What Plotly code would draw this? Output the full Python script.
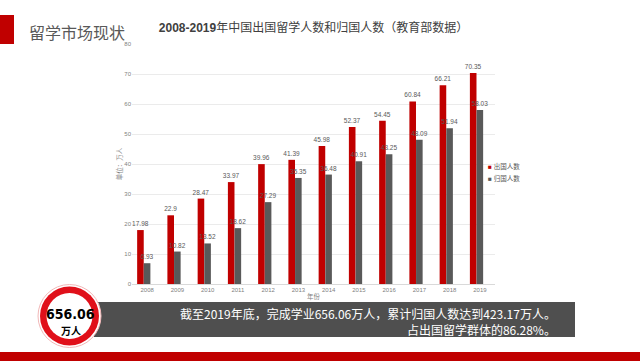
import plotly.graph_objects as go

# ---------------- data ----------------
years = ['2008', '2009', '2010', '2011', '2012', '2013',
         '2014', '2015', '2016', '2017', '2018', '2019']
outbound = [17.98, 22.9, 28.47, 33.97, 39.96, 41.39,
            45.98, 52.37, 54.45, 60.84, 66.21, 70.35]
returned = [6.93, 10.82, 13.52, 18.62, 27.29, 35.35,
            36.48, 40.91, 43.25, 48.09, 51.94, 58.03]
series_names = ['出国人数', '归国人数']
y_ticks = [0, 10, 20, 30, 40, 50, 60, 70, 80]
chart_title = '2008-2019年中国出国留学人数和归国人数（教育部数据）'
page_title = '留学市场现状'
y_title = '单位：万人'
x_title = '年份'
badge_value = '656.06'
badge_unit = '万人'
banner_lines = ['截至2019年底，完成学业656.06万人，累计归国人数达到423.17万人。',
                '占出国留学群体的86.28%。']

RED = '#c00000'
GRAY = '#595959'
TXT = '#595959'

# plot area in pixels (for placing decorations in paper coords)
L, R, T, B = 132, 495, 44, 284
W, H = 640, 361


def px(x):
    return (x - L) / (R - L)


def py(y):
    return (B - y) / (B - T)


fig = go.Figure()
fig.add_trace(go.Bar(
    x=years, y=outbound, name=series_names[0],
    marker=dict(color=RED, line=dict(width=0)),
    width=0.218, offset=-0.33,
    texttemplate='%{y}', textposition='outside', constraintext='none',
    textfont=dict(size=6.5, color=TXT), cliponaxis=False,
))
fig.add_trace(go.Bar(
    x=years, y=returned, name=series_names[1],
    marker=dict(color=GRAY, line=dict(width=0)),
    width=0.218, offset=-0.11,
    texttemplate='%{y}', textposition='outside', constraintext='none',
    textfont=dict(size=6.5, color=TXT), cliponaxis=False,
))

shapes = [
    # top-left red tab
    dict(type='rect', xref='paper', yref='paper', x0=px(0), x1=px(14),
         y0=py(44), y1=py(15), fillcolor=RED, line=dict(width=0), layer='above'),
    # dark banner
    dict(type='rect', xref='paper', yref='paper', x0=px(94), x1=px(575),
         y0=py(337), y1=py(302), fillcolor='#4f4f4f', line=dict(width=0), layer='above'),
    # bottom red band
    dict(type='rect', xref='paper', yref='paper', x0=px(0), x1=px(640),
         y0=py(361), y1=py(352), fillcolor=RED, line=dict(width=0), layer='above'),
]
cx, cy = px(69.5), py(316)
for r, fill, lc, lw in [(31.5, 'white', '#f2b8b8', 1), (29.5, '#e0101a', '#e0101a', 0),
                        (23, 'white', 'white', 0)]:
    shapes.append(dict(type='circle', xref='paper', yref='paper',
                       xsizemode='pixel', ysizemode='pixel', xanchor=cx, yanchor=cy,
                       x0=-r, x1=r, y0=-r, y1=r, fillcolor=fill,
                       line=dict(color=lc, width=lw), layer='above'))

annotations = [
    dict(text=page_title, xref='paper', yref='paper', x=px(27), y=py(32),
         xanchor='left', yanchor='middle', showarrow=False,
         font=dict(size=16, color='#595959', family='Noto Sans CJK SC')),
    dict(text=f"<span style='color:{RED}'>■</span> {series_names[0]}", xref='paper', yref='paper',
         x=px(486), y=py(166), xanchor='left', yanchor='middle', showarrow=False,
         font=dict(size=6.5, color=TXT)),
    dict(text=f"<span style='color:{GRAY}'>■</span> {series_names[1]}", xref='paper', yref='paper',
         x=px(486), y=py(178), xanchor='left', yanchor='middle', showarrow=False,
         font=dict(size=6.5, color=TXT)),
    dict(text='<br>'.join(banner_lines), xref='paper', yref='paper',
         x=px(558), y=py(321), xanchor='right', yanchor='middle', align='right',
         showarrow=False,
         font=dict(size=12, color='white', family='Noto Sans CJK SC')),
    dict(text=f'<b>{badge_value}</b>', xref='paper', yref='paper',
         x=px(70), y=py(314), xanchor='center', yanchor='middle', showarrow=False,
         font=dict(size=14, color='black',
                   family='DejaVu Sans Condensed, Liberation Sans Narrow, sans-serif')),
    dict(text=f'<b>{badge_unit}</b>', xref='paper', yref='paper',
         x=px(70.5), y=py(330), xanchor='center', yanchor='middle', showarrow=False,
         font=dict(size=10, color='black', family='Noto Sans CJK SC')),
]

fig.update_layout(
    width=W, height=H, autosize=False,
    margin=dict(l=L, r=W - R, t=T, b=H - B, pad=0),
    paper_bgcolor='white', plot_bgcolor='white',
    font=dict(family='Liberation Sans, Noto Sans CJK SC, sans-serif', color=TXT),
    title=dict(text=f'<b>2008-2019</b>{chart_title[9:]}', x=0.5, xref='paper',
               xanchor='center', y=1 - 28 / H, yref='container', yanchor='middle',
               font=dict(size=12, color='#404040',
                         family='Liberation Sans, Noto Sans CJK SC, sans-serif')),
    showlegend=False,
    bargap=0.34,
    xaxis=dict(type='category', categoryorder='array', categoryarray=years,
               showgrid=False, showline=True, linecolor='#d9d9d9', linewidth=1,
               ticks='', tickfont=dict(size=6, color='#7f7f7f'),
               title=dict(text=x_title, font=dict(size=6.5, color='#7f7f7f'), standoff=2),
               fixedrange=True),
    yaxis=dict(range=[0, 80], tickvals=y_ticks, showgrid=True, gridcolor='#ebebeb',
               gridwidth=1, zeroline=False, showline=False, ticks='',
               tickfont=dict(size=6, color='#7f7f7f'),
               title=dict(text=y_title, font=dict(size=6.5, color='#7f7f7f'), standoff=0),
               fixedrange=True),
    shapes=shapes,
    annotations=annotations,
)

fig.write_html('out.html', config={'displayModeBar': False},
               post_script="document.body.style.margin='0';")
